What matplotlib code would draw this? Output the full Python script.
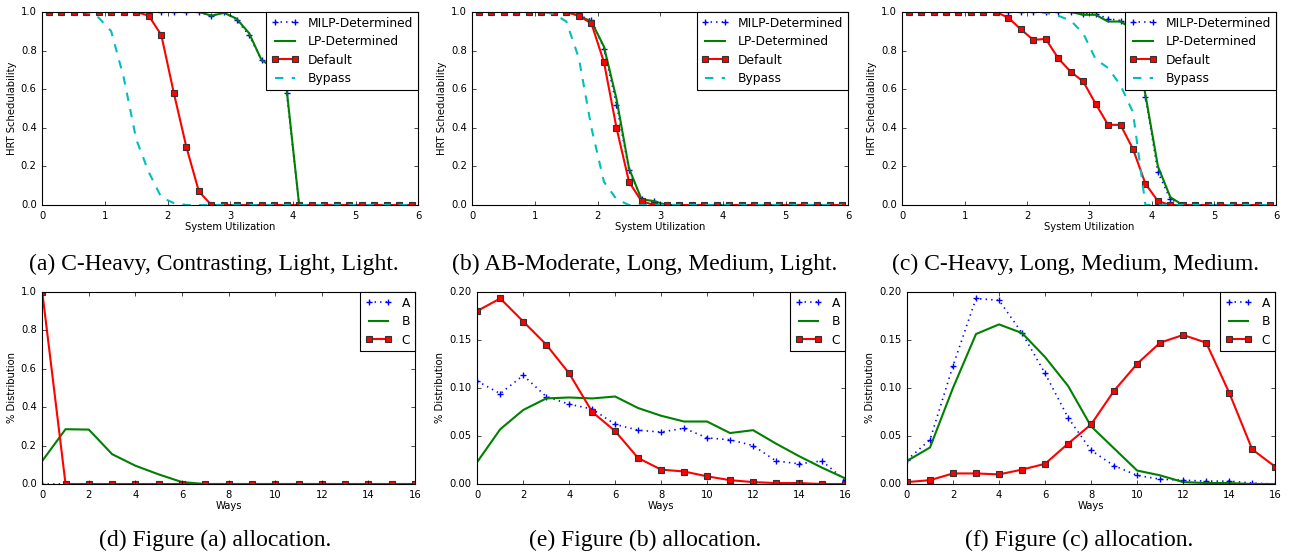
import matplotlib
matplotlib.use('Agg')
import matplotlib.pyplot as plt
from matplotlib.ticker import FormatStrFormatter

plt.style.use('classic')

# System utilization grid used by the schedulability runs
util = [0.1, 0.3, 0.5, 0.7, 0.9, 1.1, 1.3, 1.5, 1.7, 1.9,
        2.1, 2.3, 2.5, 2.7, 2.9, 3.1, 3.3, 3.5, 3.7, 3.9,
        4.1, 4.3, 4.5, 4.7, 4.9, 5.1, 5.3, 5.5, 5.7, 5.9]

# (a) C-Heavy, Contrasting, Light, Light
a_milp = [1, 1, 1, 1, 1, 1, 1, 1, 1, 1, 1, 1, 1, 0.98, 1.0, 0.96, 0.88, 0.75, 0.71, 0.58,
          0, 0, 0, 0, 0, 0, 0, 0, 0, 0]
a_lp = [1, 1, 1, 1, 1, 1, 1, 1, 1, 1, 1, 1, 1, 0.98, 0.995, 0.965, 0.89, 0.75, 0.71, 0.6,
        0, 0, 0, 0, 0, 0, 0, 0, 0, 0]
a_default = [1, 1, 1, 1, 1, 1, 1, 1, 0.98, 0.88, 0.58, 0.30, 0.07, 0, 0, 0, 0, 0, 0, 0,
             0, 0, 0, 0, 0, 0, 0, 0, 0, 0]
a_bypass = [1, 1, 1, 1, 0.97, 0.9, 0.66, 0.34, 0.17, 0.04, 0.01, 0, 0, 0, 0, 0, 0, 0, 0, 0,
            0, 0, 0, 0, 0, 0, 0, 0, 0, 0]

# (b) AB-Moderate, Long, Medium, Light
b_milp = [1, 1, 1, 1, 1, 1, 1, 1, 0.98, 0.96, 0.81, 0.52, 0.18, 0.03, 0.02, 0, 0, 0, 0, 0,
          0, 0, 0, 0, 0, 0, 0, 0, 0, 0]
b_lp = [1, 1, 1, 1, 1, 1, 1, 1, 0.98, 0.95, 0.82, 0.55, 0.19, 0.03, 0.02, 0, 0, 0, 0, 0,
        0, 0, 0, 0, 0, 0, 0, 0, 0, 0]
b_default = [1, 1, 1, 1, 1, 1, 1, 1, 0.98, 0.94, 0.74, 0.40, 0.12, 0.02, 0, 0, 0, 0, 0, 0,
             0, 0, 0, 0, 0, 0, 0, 0, 0, 0]
b_bypass = [1, 1, 1, 1, 1, 1, 0.99, 0.95, 0.76, 0.40, 0.12, 0.03, 0, 0, 0, 0, 0, 0, 0, 0,
            0, 0, 0, 0, 0, 0, 0, 0, 0, 0]

# (c) C-Heavy, Long, Medium, Medium
c_milp = [1, 1, 1, 1, 1, 1, 1, 1, 1, 1, 1, 1, 1, 1, 0.99, 0.99, 0.965, 0.955, 0.9, 0.56,
          0.17, 0.03, 0, 0, 0, 0, 0, 0, 0, 0]
c_lp = [1, 1, 1, 1, 1, 1, 1, 1, 1, 1, 1, 1, 1, 1, 0.985, 0.985, 0.95, 0.95, 0.91, 0.57,
        0.2, 0.04, 0, 0, 0, 0, 0, 0, 0, 0]
c_default = [1, 1, 1, 1, 1, 1, 1, 1, 0.97, 0.91, 0.855, 0.86, 0.76, 0.69, 0.64, 0.525, 0.415, 0.415, 0.29, 0.11,
             0.02, 0, 0, 0, 0, 0, 0, 0, 0, 0]
c_bypass = [1, 1, 1, 1, 1, 1, 1, 1, 1, 1, 1, 0.995, 0.98, 0.955, 0.89, 0.755, 0.71, 0.62, 0.48, 0,
            0, 0, 0, 0, 0, 0, 0, 0, 0, 0]

# Way allocations
ways = [0, 1, 2, 3, 4, 5, 6, 7, 8, 9, 10, 11, 12, 13, 14, 15, 16]

d_A = [0, 0, 0, 0, 0, 0, 0, 0, 0, 0, 0, 0, 0, 0, 0, 0, 0]
d_B = [0.12, 0.285, 0.283, 0.155, 0.095, 0.05, 0.01, 0, 0, 0, 0, 0, 0, 0, 0, 0, 0]
d_C = [1.0, 0, 0, 0, 0, 0, 0, 0, 0, 0, 0, 0, 0, 0, 0, 0, 0]

e_A = [0.107, 0.094, 0.113, 0.091, 0.083, 0.078, 0.062, 0.056, 0.054, 0.058, 0.048, 0.046,
       0.040, 0.024, 0.021, 0.024, 0.004]
e_B = [0.023, 0.057, 0.077, 0.089, 0.090, 0.089, 0.091, 0.079, 0.071, 0.065, 0.065, 0.053,
       0.056, 0.042, 0.029, 0.017, 0.006]
e_C = [0.180, 0.193, 0.169, 0.145, 0.115, 0.075, 0.055, 0.027, 0.015, 0.013, 0.008, 0.004,
       0.002, 0.001, 0.001, 0.0, 0.0]

f_A = [0.025, 0.046, 0.123, 0.193, 0.191, 0.157, 0.115, 0.069, 0.035, 0.019, 0.009, 0.005,
       0.004, 0.003, 0.003, 0.001, 0.0]
f_B = [0.024, 0.038, 0.100, 0.156, 0.166, 0.157, 0.132, 0.102, 0.060, 0.037, 0.014, 0.009,
       0.002, 0.001, 0.001, 0.0, 0.0]
f_C = [0.002, 0.004, 0.011, 0.011, 0.010, 0.015, 0.021, 0.042, 0.062, 0.097, 0.125, 0.147,
       0.155, 0.147, 0.095, 0.036, 0.018]

captions = ['(a) C-Heavy, Contrasting, Light, Light.',
            '(b) AB-Moderate, Long, Medium, Light.',
            '(c) C-Heavy, Long, Medium, Medium.',
            '(d) Figure (a) allocation.',
            '(e) Figure (b) allocation.',
            '(f) Figure (c) allocation.']

TICK_FS = 7.2
LEG_FS = 8.8

milp_style = dict(color='b', linestyle=':', marker='+', markersize=5, mew=1.0, lw=1.2)
lp_style = dict(color='g', linestyle='-', lw=1.5)
def_style = dict(color='r', linestyle='-', marker='s', markersize=5, mfc='r', mec='#333333', mew=0.8, lw=1.5)
byp_style = dict(color='c', linestyle='--', lw=1.5)

fig = plt.figure(figsize=(12.92, 5.55), dpi=100, facecolor='white')

top_pos = [[0.0327, 0.6306, 0.291, 0.348],
           [0.3656, 0.6306, 0.291, 0.348],
           [0.6984, 0.6306, 0.2895, 0.348]]
bot_pos = [[0.0327, 0.1279, 0.2885, 0.3465],
           [0.3694, 0.1279, 0.2846, 0.3465],
           [0.7020, 0.1279, 0.2850, 0.3465]]


def style_axes(ax):
    ax.tick_params(labelsize=TICK_FS, direction='in', length=3, top=True, right=True)
    for s in ax.spines.values():
        s.set_linewidth(0.8)
    ax.set_facecolor('white')


def add_legend(ax):
    leg = ax.legend(loc='upper right', fontsize=LEG_FS, numpoints=2, borderaxespad=0,
                    handlelength=2.2, fancybox=False, frameon=True, labelspacing=0.45)
    leg.get_frame().set_edgecolor('black')
    leg.get_frame().set_linewidth(0.8)


sched = [(a_milp, a_lp, a_default, a_bypass),
         (b_milp, b_lp, b_default, b_bypass),
         (c_milp, c_lp, c_default, c_bypass)]
for pos, (m, l, d, b) in zip(top_pos, sched):
    ax = fig.add_axes(pos)
    ax.plot(util, m, label='MILP-Determined', **milp_style)
    ax.plot(util, l, label='LP-Determined', **lp_style)
    ax.plot(util, d, label='Default', **def_style)
    ax.plot(util, b, label='Bypass', **byp_style)
    ax.set_xlim(0, 6)
    ax.set_ylim(0, 1.0)
    ax.set_xticks(range(0, 7))
    ax.set_yticks([0.0, 0.2, 0.4, 0.6, 0.8, 1.0])
    ax.yaxis.set_major_formatter(FormatStrFormatter('%.1f'))
    ax.set_xlabel('System Utilization', fontsize=TICK_FS, labelpad=1)
    ax.set_ylabel('HRT Schedulability', fontsize=TICK_FS, labelpad=3)
    style_axes(ax)
    add_legend(ax)

alloc = [(d_A, d_B, d_C, 1.0), (e_A, e_B, e_C, 0.2), (f_A, f_B, f_C, 0.2)]
for pos, (A, B, C, ymax) in zip(bot_pos, alloc):
    ax = fig.add_axes(pos)
    ax.plot(ways, A, label='A', **milp_style)
    ax.plot(ways, B, label='B', **lp_style)
    ax.plot(ways, C, label='C', **def_style)
    ax.set_xlim(0, 16)
    ax.set_ylim(0, ymax)
    ax.set_xticks(range(0, 17, 2))
    if ymax == 1.0:
        ax.set_yticks([0.0, 0.2, 0.4, 0.6, 0.8, 1.0])
        ax.yaxis.set_major_formatter(FormatStrFormatter('%.1f'))
    else:
        ax.set_yticks([0.0, 0.05, 0.10, 0.15, 0.20])
        ax.yaxis.set_major_formatter(FormatStrFormatter('%.2f'))
    ax.set_xlabel('Ways', fontsize=TICK_FS, labelpad=1)
    ax.set_ylabel('% Distribution', fontsize=TICK_FS, labelpad=3)
    style_axes(ax)
    add_legend(ax)

cap_x = [214 / 1292, 645 / 1292, 1075 / 1292, 215 / 1292, 645 / 1292, 1079 / 1292]
cap_y = [1 - 264 / 555] * 3 + [1 - 540 / 555] * 3
for x, y, t in zip(cap_x, cap_y, captions):
    fig.text(x, y, t, ha='center', va='center', fontsize=17, family='Liberation Serif')

fig.savefig('out.png', dpi=100, facecolor='white')
